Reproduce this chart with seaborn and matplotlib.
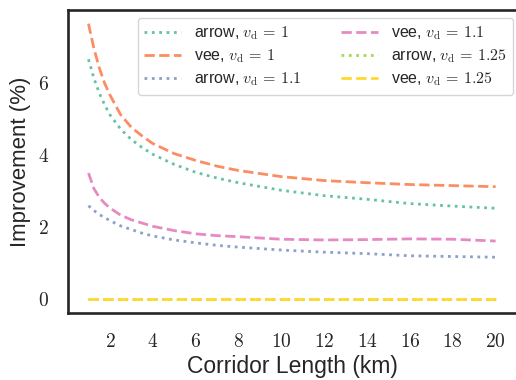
import numpy as np
import pandas as pd
import matplotlib
matplotlib.use('Agg')
import matplotlib.pyplot as plt
import seaborn as sns
from matplotlib.ticker import FuncFormatter

# Korridorlänge (km)
length_km = [1, 1.25, 1.5, 1.75, 2, 2.5, 3, 3.5, 4, 5, 6, 7, 8, 10, 12, 14, 16, 18, 20]

# Verbesserung (%) je Variante
arrow_vd1 = [6.67, 6.15, 5.74, 5.41, 5.13, 4.73, 4.44, 4.22, 4.03, 3.75, 3.53, 3.37, 3.24,
             3.03, 2.88, 2.78, 2.66, 2.59, 2.53]
vee_vd1 = [7.66, 6.98, 6.44, 6.01, 5.68, 5.13, 4.78, 4.54, 4.33, 4.05, 3.86, 3.70, 3.58,
           3.41, 3.30, 3.24, 3.19, 3.16, 3.13]
arrow_vd11 = [2.60, 2.47, 2.36, 2.27, 2.19, 2.04, 1.94, 1.84, 1.76, 1.65, 1.57, 1.50, 1.45,
              1.37, 1.31, 1.27, 1.21, 1.19, 1.17]
vee_vd11 = [3.51, 3.08, 2.84, 2.67, 2.54, 2.34, 2.21, 2.12, 2.03, 1.91, 1.82, 1.77, 1.74,
            1.67, 1.65, 1.66, 1.68, 1.67, 1.62]
arrow_vd125 = [0.0] * len(length_km)
vee_vd125 = [0.0] * len(length_km)

series = [
    (r'arrow, $v_\mathrm{d}\, =\, 1$', arrow_vd1, ':'),
    (r'vee, $v_\mathrm{d}\, =\, 1$', vee_vd1, '--'),
    (r'arrow, $v_\mathrm{d}\, =\, 1.1$', arrow_vd11, ':'),
    (r'vee, $v_\mathrm{d}\, =\, 1.1$', vee_vd11, '--'),
    (r'arrow, $v_\mathrm{d}\, =\, 1.25$', arrow_vd125, ':'),
    (r'vee, $v_\mathrm{d}\, =\, 1.25$', vee_vd125, '--'),
]

sns.set_theme(style='white', palette='Set2')
plt.rcParams['font.family'] = ['Liberation Sans', 'DejaVu Sans']
plt.rcParams['mathtext.fontset'] = 'cm'
plt.rcParams['axes.edgecolor'] = '#262626'

colors = sns.color_palette('Set2', 6)

fig = plt.figure(figsize=(5.16, 3.8), dpi=100)
ax = fig.add_axes([0.132, 0.176, 0.868, 0.798])

for (label, values, ls), col in zip(series, colors):
    sns.lineplot(x=length_km, y=values, ax=ax, label=label, color=col,
                 linestyle=ls, linewidth=2)

ax.set_xticks([2, 4, 6, 8, 10, 12, 14, 16, 18, 20])
ax.set_yticks([0, 2, 4, 6])
fmt = FuncFormatter(lambda v, p: f'${int(v)}$')
ax.xaxis.set_major_formatter(fmt)
ax.yaxis.set_major_formatter(fmt)
ax.tick_params(axis='both', labelsize=14, pad=14, length=0)

ax.set_xlabel('Corridor Length (km)', fontsize=16.5, labelpad=3)
ax.set_ylabel('Improvement (%)', fontsize=16, labelpad=5)

for sp in ax.spines.values():
    sp.set_linewidth(1.9)
ax.spines['right'].set_visible(False)

ax.legend(loc='upper right', bbox_to_anchor=(0.994, 0.974), ncol=2, fontsize=11.5,
          columnspacing=2.5, borderaxespad=0, labelspacing=0.35, handlelength=2.3,
          handletextpad=0.8)

fig.savefig('out.png', dpi=100)
